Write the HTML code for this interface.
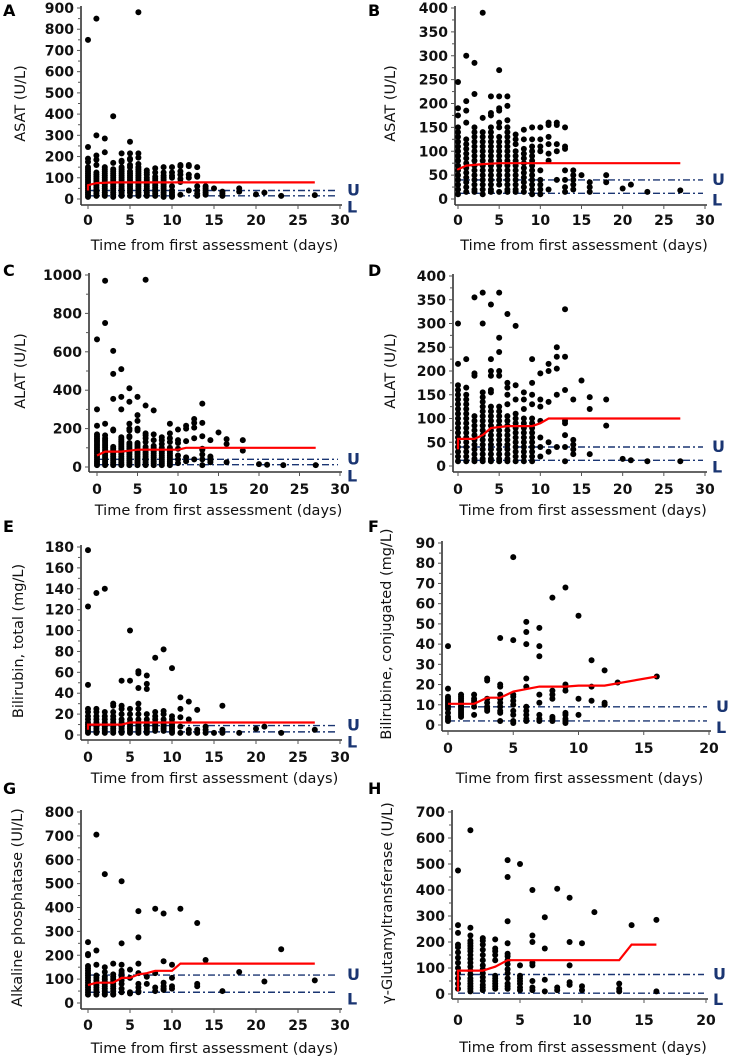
<!DOCTYPE html>
<html><head><meta charset="utf-8"><style>
html,body{margin:0;padding:0;background:#fff;}
svg{display:block;}
.tick{font-family:"DejaVu Sans","Liberation Sans",sans-serif;font-weight:bold;font-size:14px;fill:#111;}
.title{font-family:"DejaVu Sans","Liberation Sans",sans-serif;font-size:14.5px;fill:#111;}
.letter{font-family:"DejaVu Sans","Liberation Sans",sans-serif;font-weight:bold;font-size:16px;fill:#000;}
.ul{font-family:"DejaVu Sans","Liberation Sans",sans-serif;font-weight:bold;font-size:16px;fill:#1a3572;}
</style></head><body>
<svg id="chart" width="729" height="1058" viewBox="0 0 729 1058" xmlns="http://www.w3.org/2000/svg"></svg>
<script>
// ---------- DATA ----------
const asatDays = [0,1,2,3,4,5,6,7,8,9,10,11,12,13,14,15,16,18,20,21,23,27];
const asatVals = [
 [245,190,175,150,140,130,120,110,100,90,80,70,60,50,40,30,20,10],
 [300,205,185,160,125,115,105,95,85,75,65,55,45,35,25,15],
 [285,220,150,140,130,120,110,100,90,80,70,60,50,40,30,20,15],
 [390,170,140,130,120,110,100,90,80,70,60,50,40,30,20,10],
 [215,180,175,150,140,130,120,110,100,90,80,70,60,50,40,30,20,15],
 [270,215,190,185,160,150,130,120,110,100,90,80,70,60,50,40,30,15],
 [215,195,165,150,140,130,120,110,100,90,80,70,60,50,40,30,20,15],
 [135,125,115,100,90,80,70,60,50,40,30,20,15],
 [145,125,105,95,85,75,65,55,45,35,25,15],
 [150,125,110,100,90,80,70,60,50,40,30,20,10],
 [150,125,110,100,60,40,30,20,10],
 [160,155,130,115,95,80,20],
 [160,155,115,100,40],
 [150,110,105,60,40,25,15],
 [60,50,40,30,20],
 [50],
 [35,25,15],
 [50,35],
 [22],
 [30],
 [15],
 [18]
];
const asatOutDays = [0,1,6];
const asatOutVals = [750,850,880];
const asatMeanDays = [0,0,1,3,5,27];
const asatMeanValsA = [40,65,75,78,78,78];
const asatMeanValsB = [60,62,70,73,75,75];

const alatDays = [0,1,2,3,4,5,6,7,8,9,10,11,12,13,14,15,16,18,20,21,23,27];
const alatVals = [
 [300,215,170,160,150,140,130,120,110,100,90,80,70,60,50,40,30,20,10],
 [225,165,150,140,130,120,110,100,90,80,70,60,50,40,30,20,10],
 [355,195,190,105,95,85,75,65,55,45,35,25,15,10],
 [365,300,155,145,135,125,115,105,95,85,75,65,55,45,35,25,15,10],
 [340,225,200,190,160,155,125,115,105,95,85,75,65,55,45,35,25,15,10],
 [365,270,240,200,190,125,115,105,95,85,75,65,55,45,35,25,15,10],
 [320,175,165,150,130,105,95,85,75,65,55,45,35,25,15,10],
 [295,170,140,110,100,90,80,70,60,50,40,30,20,10],
 [155,140,120,100,90,80,70,60,50,40,30,20,10],
 [225,175,150,130,100,90,80,70,60,50,40,30,20,10],
 [195,140,125,95,60,40,20],
 [215,200,135,50,30],
 [250,230,205,150,40],
 [330,230,160,95,90,65,40,10],
 [140,55,45,35,25],
 [180],
 [145,120,25],
 [140,85],
 [15],[12],[10],[10]
];
const alatOutDays = [0,1,1,2,2,3,4,6];
const alatOutVals = [665,970,750,605,485,510,410,975];
const alatMeanDaysC = [0,1,3,5,10,11,27];
const alatMeanValsC = [60,80,80,90,90,100,100];
const alatMeanDaysD = [0,0,2,3,4,6,9,10,11,27];
const alatMeanValsD = [35,57,57,65,80,84,84,90,100,100];

const biliDays = [0,1,2,3,4,5,6,7,8,9,10,11,12,13,14,15,16,18,20,21,23,27];
const biliVals = [
 [177,123,48,25,22,18,15,12,10,8,6,4,2],
 [136,25,22,18,15,12,10,8,6,4,2],
 [140,22,18,15,12,10,8,6,4,2],
 [30,28,22,18,15,12,10,8,6,4,2],
 [52,28,25,20,15,12,10,8,6,4,2],
 [100,52,25,20,15,12,10,8,6,4,2],
 [61,59,45,30,25,20,15,12,10,8,6,4,2],
 [57,49,44,20,15,12,10,8,6,4,2],
 [74,22,18,15,12,10,8,6,4],
 [82,23,20,15,12,10,8,6,4],
 [64,18,15,12,10,8,6,4,2],
 [36,25,17,8,2],
 [32,15,5,2],
 [24,5,2],
 [8,5,2],
 [2],
 [28,5,2],
 [2],[6],[8],[2],[5]
];
const biliMeanDays = [0,0,4,5,27];
const biliMeanVals = [5,10,10,12,12];

const conjDays = [0,1,2,3,4,5,6,7,8,9,10,11,12,13,16];
const conjVals = [
 [39,18,14,13,12,11,10,9,8,6,4,3,2],
 [15,14,13,12,11,10,9,8,7,6,5,4],
 [15,13,12,11,9,5],
 [23,22,13,11,9,8,7],
 [43,20,19,15,13,11,9,7,6,2],
 [83,42,15,14,12,10,7,5,2,1],
 [51,46,40,23,19,9,7,5,3,2],
 [48,39,34,15,11,5,3,2],
 [63,17,15,13,4,3,2],
 [68,20,19,17,6,5,3,2,1],
 [54,13,5],
 [32,19,12],
 [27,11,10],
 [21],
 [24]
];
const conjMeanDays = [0,2,3,4,5,7,9,10,12,16];
const conjMeanVals = [10.5,10.5,13.5,13.5,16.5,19,19,19.5,19.5,24];

const alpDays = [0,1,2,3,4,5,6,7,8,9,10,11,13,14,16,18,21,23,27];
const alpVals = [
 [255,205,200,155,145,135,125,115,105,95,85,75,65,55,45,35],
 [705,220,160,115,105,95,85,75,65,55,45,35],
 [540,150,130,110,100,90,80,70,60,50,40,35],
 [165,120,110,100,90,80,70,60,50,40,35],
 [510,250,160,135,125,110,95,80,60,45],
 [140,105,45,40],
 [385,275,165,125,80,65,50,45],
 [110,80],
 [395,125,65,50],
 [375,175,85,70,60,55],
 [160,105,70,60],
 [395],
 [335,80,70],
 [180],[50],[130],[90],[225],[95]
];
const alpMeanDays = [0,1,3,4,5,6,7,8,10,11,27];
const alpMeanVals = [75,85,85,105,105,120,125,135,135,165,165];

const ggtDays = [0,1,2,3,4,5,6,7,8,9,10,11,13,14,16];
const ggtVals = [
 [475,265,235,190,180,160,140,120,100,80,60,40,20],
 [630,255,225,205,195,185,175,165,150,135,120,105,90,75,60,50,40,30,20,10],
 [215,205,190,170,150,130,110,95,80,65,50,35,25,15],
 [210,175,165,150,130,70,60,50,40,30,20],
 [515,450,280,195,155,145,130,115,95,80,60,40,30,20],
 [500,110,70,60,50,40,25,15],
 [400,225,200,120,110,50,25,15],
 [295,175,55,10],
 [405,25,15],
 [370,200,110,45,35],
 [195,30,15],
 [315],
 [40,20,10],
 [265],
 [285,10]
];
const ggtMeanDays = [0,0,2,3,4,13,14,16];
const ggtMeanVals = [10,90,90,105,130,130,190,190];

// ---------- DRAWING ----------
const NS = "http://www.w3.org/2000/svg";
const svg = document.getElementById('chart');
function mk(tag, attrs, parent){
  const e = document.createElementNS(NS, tag);
  for (const k in attrs) e.setAttribute(k, attrs[k]);
  (parent||svg).appendChild(e);
  return e;
}
function panel(c){
  const g = mk('g', {});
  
  
  const sx = v => c.x0 + (c.x1 - c.x0) * v / c.xmax;
  const sy = v => c.y0 - (c.y0 - c.y1) * v / c.ymax;
  const lt = mk('text', {x:c.lx, y:c.ly, class:'letter'}, g);
  lt.textContent = c.letter;
  
  
  const ya = mk('line', {x1:c.ax, y1:c.bot, x2:c.ax, y2:c.y1-2, stroke:'#333', 'stroke-width':1.6}, g);
  
  
  const xa = mk('line', {x1:c.ax, y1:c.bot, x2:c.x1+2, y2:c.bot, stroke:'#333', 'stroke-width':1.6}, g);
  
  
  for (let v = 0; v <= c.ymax + 1e-9; v += c.ystep/2){
    const major = Math.abs(v / c.ystep - Math.round(v / c.ystep)) < 1e-6;
    mk('line', {x1:c.ax - (major?4:3), y1:sy(v), x2:c.ax, y2:sy(v), stroke:'#555', 'stroke-width':1}, g);
    if (major){
      const t = mk('text', {x:c.ax-7, y:sy(v)+5, 'text-anchor':'end', class:'tick'}, g);
      t.textContent = String(Math.round(v));
      
      
    }
  }
  for (let v = 0; v <= c.xmax; v += c.xstep){
    mk('line', {x1:sx(v), y1:c.bot, x2:sx(v), y2:c.bot+4, stroke:'#555', 'stroke-width':1}, g);
    const t = mk('text', {x:sx(v), y:c.tickY, 'text-anchor':'middle', class:'tick'}, g);
    t.textContent = String(v);
    
    
  }
  const xt = mk('text', {x:(c.ax + c.x1)/2 + 4, y:c.titleY, 'text-anchor':'middle', class:'title'}, g);
  xt.textContent = 'Time from first assessment (days)';
  
  
  const ymid = (c.y0 + c.y1)/2;
  const yt = mk('text', {x:c.ytx, y:ymid, 'text-anchor':'middle', class:'title', transform:'rotate(-90 '+c.ytx+' '+ymid+')'}, g);
  yt.textContent = c.ytitle;
  
  
  [['U', c.U], ['L', c.L]].forEach(([lab, v]) => {
    const ln = mk('line', {x1:c.x0, y1:sy(v), x2:c.x1-2, y2:sy(v), stroke:'#1a3572', 'stroke-width':1.4, 'stroke-dasharray':'7,3,2,3'}, g);
    
    
  });
  const uy = sy(c.U) - 1;
  const ly = Math.max(sy(c.L) + 6, uy + 17);
  const ut = mk('text', {x:c.x1+7, y:uy+6, class:'ul'}, g);
  ut.textContent = 'U';
  
  
  const ltx = mk('text', {x:c.x1+7, y:ly+6, class:'ul'}, g);
  ltx.textContent = 'L';
  
  
  c.days.forEach((d, i) => {
    c.vals[i].forEach(v => {
      if (v > c.ymax) return;
      const p = mk('circle', {cx:sx(d), cy:sy(v), r:3, fill:'#000'}, g);
      
      
    });
  });
  if (c.outDays){
    c.outDays.forEach((d, i) => {
      const p = mk('circle', {cx:sx(d), cy:sy(c.outVals[i]), r:3, fill:'#000'}, g);
      
      
    });
  }
  const pts = c.mDays.map((d, i) => sx(d).toFixed(1) + ',' + sy(c.mVals[i]).toFixed(1)).join(' ');
  const ml = mk('polyline', {points:pts, fill:'none', stroke:'#ff0000', 'stroke-width':2.2}, g);
  
  
}

panel({letter:'A', lx:3, ly:16, ax:81, x0:88, x1:340, xmax:30, xstep:5, y0:199, y1:8, ymax:900, ystep:100, bot:205, tickY:225, titleY:250, ytx:25, ytitle:'ASAT (U/L)', U:40, L:15, days:asatDays, vals:asatVals, outDays:asatOutDays, outVals:asatOutVals, mDays:asatMeanDays, mVals:asatMeanValsA});
panel({letter:'B', lx:368, ly:16, ax:455, x0:458, x1:705, xmax:30, xstep:5, y0:199, y1:8, ymax:400, ystep:50, bot:205, tickY:225, titleY:250, ytx:395, ytitle:'ASAT (U/L)', U:40, L:12, days:asatDays, vals:asatVals, mDays:asatMeanDays, mVals:asatMeanValsB});
panel({letter:'C', lx:3, ly:276, ax:89, x0:97, x1:340, xmax:30, xstep:5, y0:467, y1:275, ymax:1000, ystep:200, bot:472, tickY:494, titleY:515, ytx:25, ytitle:'ALAT (U/L)', U:40, L:12, days:alatDays, vals:alatVals, outDays:alatOutDays, outVals:alatOutVals, mDays:alatMeanDaysC, mVals:alatMeanValsC});
panel({letter:'D', lx:368, ly:276, ax:453, x0:458, x1:705, xmax:30, xstep:5, y0:466, y1:276, ymax:400, ystep:50, bot:472, tickY:494, titleY:515, ytx:395, ytitle:'ALAT (U/L)', U:40, L:12, days:alatDays, vals:alatVals, mDays:alatMeanDaysD, mVals:alatMeanValsD});
panel({letter:'E', lx:3, ly:532, ax:81, x0:88, x1:340, xmax:30, xstep:5, y0:735, y1:547, ymax:180, ystep:20, bot:740, tickY:762, titleY:783, ytx:23, ytitle:'Bilirubin, total (mg/L)', U:9, L:3, days:biliDays, vals:biliVals, mDays:biliMeanDays, mVals:biliMeanVals});
panel({letter:'F', lx:368, ly:532, ax:442, x0:448, x1:709, xmax:20, xstep:5, y0:725, y1:543, ymax:90, ystep:10, bot:731, tickY:753, titleY:783, ytx:391, ytitle:'Bilirubine, conjugated (mg/L)', U:9, L:2, days:conjDays, vals:conjVals, mDays:conjMeanDays, mVals:conjMeanVals});
panel({letter:'G', lx:3, ly:794, ax:81, x0:88, x1:340, xmax:30, xstep:5, y0:1003, y1:812, ymax:800, ystep:100, bot:1009, tickY:1030, titleY:1053, ytx:22, ytitle:'Alkaline phosphatase (UI/L)', U:117, L:45, days:alpDays, vals:alpVals, mDays:alpMeanDays, mVals:alpMeanVals});
panel({letter:'H', lx:368, ly:794, ax:452, x0:458, x1:706, xmax:20, xstep:5, y0:994, y1:812, ymax:700, ystep:100, bot:999, tickY:1025, titleY:1052, ytx:392, ytitle:'γ-Glutamyltransferase (U/L)', U:75, L:3, days:ggtDays, vals:ggtVals, mDays:ggtMeanDays, mVals:ggtMeanVals});
</script>
</body></html>
